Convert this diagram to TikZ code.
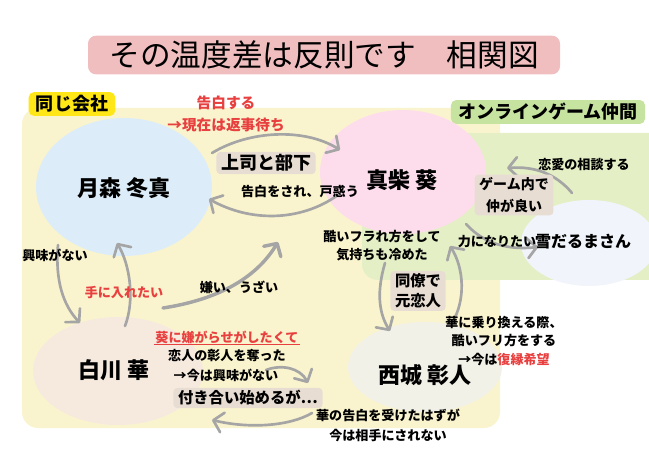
\documentclass[tikz,border=0pt]{standalone}
\usepackage{fontspec}
\setmainfont{Noto Sans CJK JP}
\usepackage{tikz}
\usetikzlibrary{shapes.geometric,arrows.meta}

\definecolor{cmpbg}{HTML}{FAF4CE}
\definecolor{gamebg}{HTML}{E4EFC6}
\definecolor{cmptag}{HTML}{FFE617}
\definecolor{gametag}{HTML}{C7E3A0}
\definecolor{titlebg}{HTML}{F0BEBF}
\definecolor{tsukifill}{HTML}{DCEDF9}
\definecolor{aoifill}{HTML}{FDDDEB}
\definecolor{yukifill}{HTML}{F1F4FA}
\definecolor{hanafill}{HTML}{F6EADF}
\definecolor{akifill}{HTML}{F2F1E7}
\definecolor{tagfill}{HTML}{E7DDD3}
\definecolor{redtxt}{HTML}{E83F3F}
\definecolor{arrowgray}{HTML}{A5A5A5}

\tikzset{
  blob/.style={ellipse, draw=none, inner sep=0pt},
  person/.style={font=\bfseries\fontsize{16.5}{18}\selectfont, inner sep=0.75pt},
  note/.style={font=\bfseries\fontsize{9.8}{14}\selectfont, align=center, inner sep=0.75pt},
  rednote/.style={note, text=redtxt},
  tag/.style={fill=tagfill, rounded corners=3pt, align=center, inner xsep=3.5pt, inner ysep=2pt},
  grouptag/.style={rounded corners=4pt, inner xsep=5.5pt, inner ysep=2.5pt, font=\bfseries\fontsize{13.5}{15}\selectfont},
  rel/.style={draw=arrowgray, line width=2pt, line cap=round,
    -{Straight Barb[length=7pt,width=15pt,round]}}
}

\begin{document}
\begin{tikzpicture}[x=0.75pt,y=0.75pt,yscale=-1]
\useasboundingbox (0,0) rectangle (649,459);

%Shape: Title box
\node (title) at (324,55) [fill=titlebg, rounded corners=6pt, minimum width=354pt, minimum height=29pt,
  font=\fontsize{23}{25}\selectfont] {その温度差は反則です　相関図};

%Shape: group areas
\fill[cmpbg, rounded corners=12] (22,108) rectangle (500,428);
\fill[gamebg, rounded corners=12] (362,133) rectangle (672,280);
\node (company) at (72,104) [grouptag, fill=cmptag] {同じ会社};
\node (game) at (548,112) [grouptag, fill=gametag] {オンラインゲーム仲間};

%Shape: Ellipses
\node (tsuki) at (124,187) [blob, fill=tsukifill, minimum width=132pt, minimum height=103.5pt] {};
\node (aoi) at (403,172) [blob, fill=aoifill, minimum width=124.5pt, minimum height=93pt] {};
\node (yuki) at (589,243) [blob, fill=yukifill, minimum width=102pt, minimum height=64.5pt] {};
\node (hana) at (118,371) [blob, fill=hanafill, minimum width=127.5pt, minimum height=81pt] {};
\node (aki) at (425,367) [blob, fill=akifill, minimum width=115.5pt, minimum height=67.5pt] {};

%Curve Lines
\coordinate (tsukiR1) at (212,153);
\coordinate (aoiL1) at (340,150);
\draw[rel] (tsukiR1) .. controls (250,130) and (305,128) .. (aoiL1);
\coordinate (aoiL2) at (338,195);
\coordinate (tsukiR2) at (209,199);
\draw[rel] (aoiL2) .. controls (300,222) and (250,222) .. (tsukiR2);
\coordinate (hanaT1) at (125,326);
\coordinate (tsukiB1) at (117,243);
\draw[rel] (hanaT1) .. controls (135,300) and (130,265) .. (tsukiB1);
\coordinate (tsukiB2) at (58,245);
\coordinate (hanaT2) at (80,323);
\draw[rel] (tsukiB2) .. controls (55,280) and (63,305) .. (hanaT2);
\coordinate (hanaR1) at (163,308);
\coordinate (aoiB1) at (278,242);
\draw[rel, line width=2.6pt] (hanaR1) .. controls (215,300) and (255,280) .. (aoiB1);
\coordinate (aoiB2) at (385,263);
\coordinate (akiT1) at (390,331);
\draw[rel] (aoiB2) .. controls (377,290) and (378,312) .. (akiT1);
\coordinate (akiT2) at (452,323);
\coordinate (aoiB3) at (450,246);
\draw[rel] (akiT2) .. controls (466,300) and (464,268) .. (aoiB3);
\coordinate (aoiR1) at (466,224);
\coordinate (yukiL1) at (538,247);
\draw[rel] (aoiR1) .. controls (485,245) and (510,250) .. (yukiL1);
\coordinate (yukiT1) at (572,193);
\coordinate (aoiR2) at (507,168);
\draw[rel] (yukiT1) .. controls (556,174) and (535,166) .. (aoiR2);
\coordinate (hanaR2) at (266,370);
\coordinate (akiL1) at (308,383);
\draw[rel] (hanaR2) .. controls (282,364) and (300,368) .. (akiL1);
\coordinate (akiL2) at (312,413);
\coordinate (hanaR3) at (212,420);
\draw[rel] (akiL2) .. controls (290,426) and (250,429) .. (hanaR3);

% Text Node: names
\node (tsukiname) at (124,188) [person] {月森 冬真};
\node (aoiname) at (402,180) [person] {真柴 葵};
\node (hananame) at (114,370) [person] {白川 華};
\node (akiname) at (425,375) [person] {西城 彰人};
\node (yukiname) at (583,242) [person, font=\bfseries\fontsize{12}{14}\selectfont] {雪だるまさん};

% Text Node: tags
\node (boss) at (266,163) [tag, font=\bfseries\fontsize{13.5}{15}\selectfont] {上司と部下};
\node (ingame) at (514,195) [tag, font=\bfseries\fontsize{10.5}{16.5}\selectfont] {ゲーム内で\\仲が良い};
\node (colleague) at (418,291) [tag, font=\bfseries\fontsize{11.5}{15}\selectfont] {同僚で\\元恋人};
\node (dating) at (248,398) [tag, font=\bfseries\fontsize{11.5}{13}\selectfont] {付き合い始めるが…};

% Text Node: notes
\node (confess) at (226,114) [rednote, font=\bfseries\fontsize{11}{16.5}\selectfont] {告白する\\→現在は返事待ち};
\node (puzzled) at (300,192) [note] {告白をされ、戸惑う};
\node (advice) at (584,165) [note] {恋愛の相談する};
\node (help) at (497,242) [note] {力になりたい};
\node (coldnote) at (382,246) [note, font=\bfseries\fontsize{9.8}{13.5}\selectfont] {酷いフラれ方をして\\気持ちも冷めた};
\node (rejoin) at (504,341) [note] {華に乗り換える際、\\酷いフリ方をする\\→今は{\color{redtxt}復縁希望}};
\node (ignored) at (388,425) [note, font=\bfseries\fontsize{9.8}{15}\selectfont] {華の告白を受けたはずが\\今は相手にされない};
\node (nointerest) at (55,255) [note] {興味がない};
\node (want) at (124,293) [rednote] {手に入れたい};
\node (dislike) at (239,287) [note] {嫌い、うざい};
\node (harass) at (227,337) [rednote] {葵に嫌がらせがしたくて};
\draw[redtxt, line width=0.8pt] (harass.south west) -- (harass.south east);
\node (stole) at (227,356) [note] {恋人の彰人を奪った};
\node (nownot) at (226,375) [note] {→今は興味がない};

\end{tikzpicture}
\end{document}
